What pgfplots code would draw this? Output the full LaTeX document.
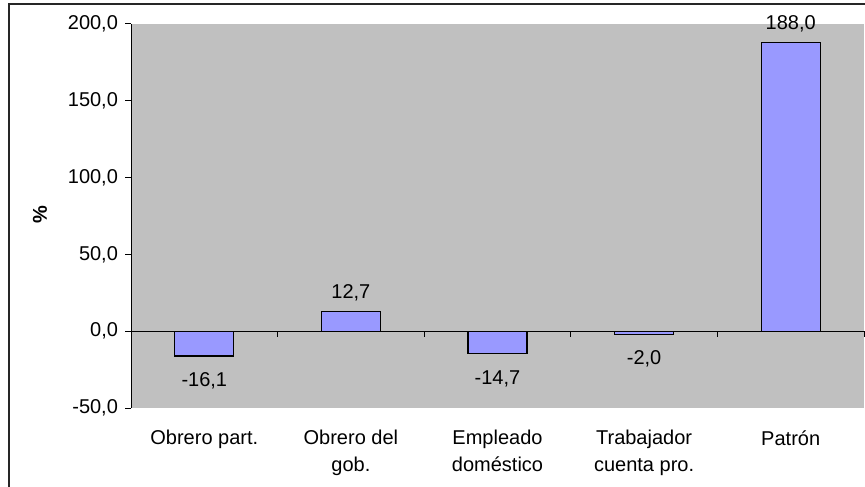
\documentclass[border=0pt]{standalone}
\usepackage{fontspec}
\setmainfont{Liberation Sans}
\usepackage{pgfplots}
\pgfplotsset{compat=1.18}
\definecolor{plotgray}{HTML}{C0C0C0}
\definecolor{barblue}{HTML}{9999FF}
\begin{document}
\begin{tikzpicture}
\path[use as bounding box] (0,0) rectangle (432.5pt,243pt);
% outer chart frame (runs off the right and bottom edge)
\draw[line width=0.6pt, black!85] (4.5pt,-5pt) -- (4.5pt,241pt) -- (440pt,241pt);
\begin{axis}[
    at={(65.5pt,39pt)}, anchor=south west,
    scale only axis, width=366.5pt, height=192pt,
    xmin=-0.5, xmax=4.5, ymin=-50, ymax=200,
    axis background/.style={fill=plotgray},
    axis x line*=bottom, axis y line*=left,
    x axis line style={draw=none},
    y axis line style={black, line width=0.5pt},
    xtick={0,...,4},
    xticklabels={Obrero part., Obrero del\\gob., Empleado\\doméstico, Trabajador\\cuenta pro., Patrón},
    x tick style={draw=none},
    ytick={-50,0,50,100,150,200},
    yticklabels={{-50,0},{0,0},{50,0},{100,0},{150,0},{200,0}},
    tick align=outside,
    major tick length=3pt,
    y tick style={black, line width=0.5pt},
    xticklabel style={align=center, anchor=north, inner sep=0pt, yshift=-8pt,
        font=\fontsize{10}{13.3}\selectfont},
    ylabel={\textbf{\%}},
    ylabel style={at={(axis description cs:-0.124,0.503)}, anchor=center},
    ybar, bar width=29.5pt, bar shift=0pt,
    clip=false,
]
\addplot[fill=barblue, draw=black, line width=0.6pt,
    nodes near coords, point meta=explicit symbolic,
    every node near coord/.append style={anchor=base, inner sep=0pt, yshift=6.5pt, black}]
    table[meta=lab] {
x y lab
1 12.7 12,7
4 188.0 188,0
};
\addplot[fill=barblue, draw=black, line width=0.6pt,
    nodes near coords, point meta=explicit symbolic,
    every node near coord/.append style={anchor=north, inner sep=0pt, yshift=-8pt, black}]
    table[meta=lab] {
x y lab
0 -16.1 -16,1
2 -14.7 -14,7
3 -2.0 -2,0
};
\draw[black, line width=0.5pt] (axis cs:-0.5,0) -- (axis cs:4.5,0);
\pgfplotsinvokeforeach{-0.5,0.5,1.5,2.5,3.5,4.5}{
    \draw[black, line width=0.5pt] (axis cs:#1,0) -- ([yshift=-3pt]axis cs:#1,0);
}
\end{axis}
\end{tikzpicture}
\end{document}
